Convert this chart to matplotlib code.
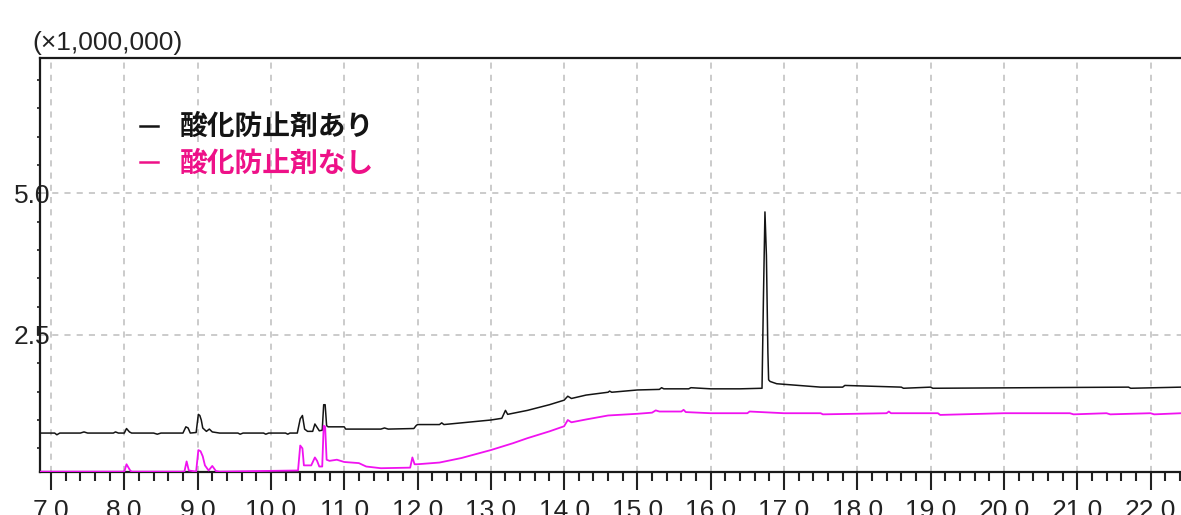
import matplotlib
matplotlib.use("Agg")
import matplotlib.pyplot as plt
from matplotlib.lines import Line2D
from matplotlib.ticker import MultipleLocator, FixedLocator, FuncFormatter
from matplotlib.font_manager import FontProperties

# retention time (min) / intensity (x1,000,000) — with antioxidant
with_time = [6.84, 7.05, 7.08, 7.12, 7.40, 7.45, 7.50, 7.85, 7.88, 7.92,
             8.00, 8.03, 8.07, 8.10, 8.40, 8.45, 8.50, 8.80, 8.84, 8.87,
             8.90, 8.98, 9.01, 9.03, 9.05, 9.07, 9.12, 9.16, 9.20, 9.30,
             9.55, 9.58, 9.62, 9.90, 9.93, 9.97, 10.20, 10.23, 10.26, 10.36,
             10.40, 10.43, 10.46, 10.50, 10.57, 10.60, 10.63, 10.66, 10.70, 10.72,
             10.74, 10.76, 10.78, 11.00, 11.02, 11.50, 11.55, 11.60, 11.95, 11.98,
             12.00, 12.30, 12.33, 12.36, 12.60, 13.00, 13.15, 13.20, 13.23, 13.50,
             13.80, 14.00, 14.05, 14.10, 14.30, 14.60, 14.62, 14.65, 15.00, 15.30,
             15.33, 15.36, 15.70, 15.73, 16.00, 16.40, 16.70, 16.72, 16.74, 16.76,
             16.78, 16.79, 16.81, 16.90, 17.20, 17.50, 17.80, 17.83, 18.60, 18.63,
             19.00, 19.03, 21.70, 21.73, 22.42]
with_val = [0.77, 0.77, 0.74, 0.77, 0.77, 0.79, 0.77, 0.77, 0.79, 0.77,
            0.77, 0.85, 0.79, 0.77, 0.77, 0.75, 0.77, 0.77, 0.88, 0.86,
            0.77, 0.78, 1.10, 1.08, 1.00, 0.86, 0.80, 0.84, 0.79, 0.77,
            0.77, 0.75, 0.77, 0.77, 0.75, 0.77, 0.77, 0.75, 0.77, 0.77,
            1.02, 1.08, 0.84, 0.80, 0.80, 0.93, 0.87, 0.81, 0.82, 1.27,
            1.27, 0.90, 0.88, 0.88, 0.84, 0.84, 0.86, 0.84, 0.85, 0.90,
            0.92, 0.92, 0.95, 0.92, 0.95, 1.00, 1.03, 1.17, 1.10, 1.17,
            1.27, 1.35, 1.42, 1.38, 1.44, 1.49, 1.51, 1.49, 1.53, 1.54,
            1.57, 1.55, 1.55, 1.57, 1.55, 1.55, 1.56, 3.20, 4.67, 3.90,
            2.20, 1.71, 1.68, 1.64, 1.61, 1.58, 1.58, 1.61, 1.58, 1.56,
            1.58, 1.56, 1.58, 1.56, 1.58]

# retention time (min) / intensity (x1,000,000) — without antioxidant
without_time = [6.84, 8.00, 8.03, 8.08, 8.10, 8.82, 8.85, 8.88, 8.98, 9.01,
                9.04, 9.07, 9.10, 9.15, 9.20, 9.25, 9.30, 10.37, 10.40, 10.43,
                10.45, 10.47, 10.55, 10.60, 10.63, 10.66, 10.70, 10.72, 10.74, 10.76,
                10.80, 10.90, 11.00, 11.20, 11.30, 11.50, 11.90, 11.93, 11.96, 12.00,
                12.30, 12.60, 13.00, 13.30, 13.50, 13.80, 14.00, 14.05, 14.10, 14.30,
                14.60, 15.00, 15.20, 15.25, 15.30, 15.60, 15.63, 15.66, 16.00, 16.50,
                16.53, 17.00, 17.50, 17.53, 18.40, 18.43, 18.46, 19.10, 19.13, 20.00,
                20.90, 20.95, 21.40, 21.45, 22.00, 22.05, 22.42]
without_val = [0.09, 0.09, 0.22, 0.11, 0.09, 0.09, 0.27, 0.11, 0.09, 0.47,
               0.45, 0.36, 0.20, 0.11, 0.19, 0.10, 0.09, 0.11, 0.55, 0.50,
               0.20, 0.20, 0.20, 0.34, 0.28, 0.18, 0.18, 0.90, 0.88, 0.30,
               0.28, 0.30, 0.26, 0.24, 0.18, 0.15, 0.16, 0.34, 0.22, 0.22,
               0.25, 0.33, 0.47, 0.59, 0.68, 0.80, 0.89, 1.00, 0.96, 1.01,
               1.08, 1.11, 1.13, 1.17, 1.15, 1.15, 1.18, 1.14, 1.12, 1.12,
               1.15, 1.12, 1.12, 1.10, 1.12, 1.15, 1.12, 1.12, 1.09, 1.12,
               1.12, 1.10, 1.12, 1.10, 1.12, 1.10, 1.12]

series_labels = ["酸化防止剤あり", "酸化防止剤なし"]
y_major = [2.5, 5.0]

BLACK = "#141414"
MAGENTA = "#f012f0"
PINK = "#ee1188"
TICK_FONT = FontProperties(family=["Liberation Sans", "DejaVu Sans"], size=19)
LEGEND_FONT = FontProperties(family=["Noto Sans CJK JP", "DejaVu Sans"],
                             weight="bold", size=20)

fig = plt.figure(figsize=(11.81, 5.15), dpi=100)
ax = fig.add_axes([39.5 / 1181, 42.7 / 515, 1141.5 / 1181, 414.6 / 515])

ax.plot(with_time, with_val, color=BLACK, linewidth=1.1, zorder=3)
ax.plot(without_time, without_val, color=MAGENTA, linewidth=1.3, zorder=3)

ax.set_xlim(6.843, 22.416)
ax.set_ylim(0.078, 7.39)

ax.xaxis.set_major_locator(MultipleLocator(1))
ax.xaxis.set_minor_locator(MultipleLocator(0.2))
ax.xaxis.set_major_formatter(FuncFormatter(lambda v, _: f"{v:.1f}"))
ax.yaxis.set_major_locator(FixedLocator(y_major))
ax.yaxis.set_minor_locator(MultipleLocator(0.5))
ax.yaxis.set_major_formatter(FuncFormatter(lambda v, _: f"{v:.1f}"))

ax.tick_params(axis="x", which="major", direction="out", length=13, width=1.5,
               pad=6, colors="#222222")
ax.tick_params(axis="x", which="minor", direction="out", length=6.5, width=1.5,
               colors="#222222")
ax.tick_params(axis="y", which="both", direction="out", length=2, width=1.2,
               pad=-10, colors="#222222")
for lbl in ax.get_xticklabels() + ax.get_yticklabels():
    lbl.set_fontproperties(TICK_FONT)

ax.grid(True, which="major", color="#bdbdbd", linestyle=(0, (4, 4)), linewidth=1.1)

for side in ("left", "bottom", "top"):
    ax.spines[side].set_linewidth(1.6)
    ax.spines[side].set_color("#1a1a1a")
ax.spines["right"].set_visible(False)

fig.text(32 / 1181, 1 - 43 / 515, "(×1,000,000)", fontproperties=TICK_FONT,
         color="#222222", ha="left", va="center")

handles = [Line2D([], [], color=BLACK, linewidth=1.8),
           Line2D([], [], color=PINK, linewidth=1.8)]
ax.legend(handles, series_labels, loc="upper left", bbox_to_anchor=(0.088, 0.866),
          frameon=False, prop=LEGEND_FONT, handlelength=0.65, handletextpad=0.8,
          labelspacing=0.32, borderpad=0, borderaxespad=0,
          labelcolor=[BLACK, PINK])

fig.savefig("out.png", dpi=100)
